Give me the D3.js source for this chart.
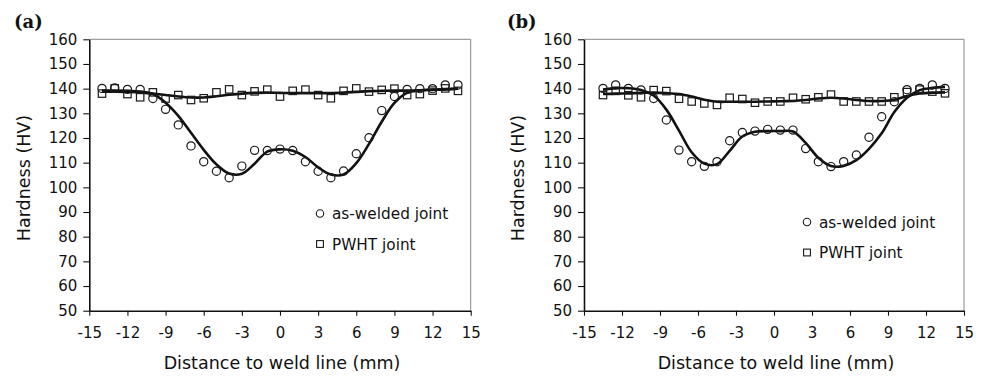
<!DOCTYPE html>
<html>
<head>
<meta charset="utf-8">
<script src="https://cdn.jsdelivr.net/npm/d3@7"></script>
<style>
	body { margin: 0; background: #fff; }
	text { font-family: 'DejaVu Sans', sans-serif; fill: #111; }
</style>
</head>
<body>
<svg id="chart" width="984" height="377"></svg>
<script>
// tick labels
const distTicks = [-15, -12, -9, -6, -3, 0, 3, 6, 9, 12, 15];
const hardTicks = [50, 60, 70, 80, 90, 100, 110, 120, 130, 140, 150, 160];

// panel (a)
const distA = [-14, -13, -12, -11, -10, -9, -8, -7, -6, -5, -4, -3, -2, -1, 0, 1, 2, 3, 4, 5, 6, 7, 8, 9, 10, 11, 12, 13, 14];
const weldedA = [140.1, 140.3, 139.7, 139.7, 136, 131.6, 125.3, 116.8, 110.4, 106.5, 103.9, 108.6, 115, 114.9, 115.5, 114.9, 110.4, 106.5, 103.9, 106.6, 113.6, 120.1, 131.1, 136.8, 139.7, 140, 140, 141.5, 141.5];
const pwhtA = [138, 140.1, 137.8, 136.5, 138.5, 136, 137.4, 135.4, 136.1, 138.5, 139.7, 137.4, 138.9, 139.6, 136.8, 139.1, 139.6, 137.4, 136.1, 139.1, 140.1, 138.8, 139.5, 140, 137.4, 137.8, 139.2, 140.1, 139.1];
const weldedFitA = [139.2, 139.2, 139.1, 138.8, 137.8, 134.3, 129, 122.1, 115.2, 109.3, 105.6, 105.5, 109.6, 114.5, 115.4, 114.8, 112.3, 108.1, 105.2, 105.2, 109.8, 117.6, 126.6, 134.2, 138.3, 139.3, 139.6, 139.8, 140];
const pwhtFitA = [138.8, 138.8, 138.7, 138.5, 138, 137.4, 136.8, 136.4, 136.4, 136.9, 137.5, 138, 138.3, 138.4, 138.3, 138.2, 138.2, 138.2, 138.2, 138.4, 138.7, 139, 139.1, 139.2, 139.2, 139.3, 139.5, 139.7, 140];

// panel (b)
const distB = [-13.5, -12.5, -11.5, -10.5, -9.5, -8.5, -7.5, -6.5, -5.5, -4.5, -3.5, -2.5, -1.5, -0.5, 0.5, 1.5, 2.5, 3.5, 4.5, 5.5, 6.5, 7.5, 8.5, 9.5, 10.5, 11.5, 12.5, 13.5];
const weldedB = [140.1, 141.5, 140.1, 139.5, 136, 127.3, 115.1, 110.4, 108.5, 110.4, 118.9, 122.2, 122.8, 123.5, 123.2, 123.2, 115.7, 110.4, 108.4, 110.4, 113.1, 120.3, 128.6, 134.7, 139.6, 140.1, 141.5, 140.1];
const pwhtB = [137.4, 139.1, 137.3, 136.5, 139.4, 139, 135.9, 134.8, 134, 133.4, 136.3, 135.8, 134.3, 134.8, 134.8, 136.3, 135.7, 136.5, 137.6, 134.8, 134.8, 134.8, 134.8, 136.5, 138.6, 139.6, 138.8, 138.1];
const weldedFitB = [139.6, 140.2, 140.2, 139.5, 137.2, 131.5, 123, 114.2, 109.6, 109.4, 114.8, 120.6, 122.5, 122.8, 122.8, 122.6, 118, 112, 108.6, 108.7, 111, 115.6, 121.9, 130.5, 136.3, 139.4, 140.3, 140.7];
const pwhtFitB = [137.8, 138, 138.1, 138.3, 138.4, 138.2, 137.8, 136.8, 135.5, 134.7, 134.7, 134.7, 134.7, 134.8, 134.9, 135, 135.4, 136, 136.3, 136, 135.4, 135, 135, 135.5, 137, 138, 138.4, 138.5];

const legendLabels = ['as-welded joint', 'PWHT joint'];

const svg = d3.select('#chart');

function drawPanel(p) {
	const top = 39.3;
	const bottom = 310.7;
	const xScale = d3.scaleLinear().domain([-15, 15]).range([p.left, p.right]);
	const yScale = d3.scaleLinear().domain([50, 160]).range([bottom, top]);
	const g = svg.append('g');

	// grey frame on top and right
	g.append('line').attr('x1', p.left).attr('x2', p.right).attr('y1', top).attr('y2', top)
		.attr('stroke', '#888').attr('stroke-width', 1);
	g.append('line').attr('x1', p.right).attr('x2', p.right).attr('y1', top).attr('y2', bottom)
		.attr('stroke', '#888').attr('stroke-width', 1);

	const yAxis = d3.axisLeft(yScale).tickValues(hardTicks).tickSize(6).tickSizeOuter(0).tickPadding(6);
	const xAxis = d3.axisBottom(xScale).tickValues(distTicks).tickSize(5).tickSizeOuter(0).tickPadding(12)
		.tickFormat((v) => String(v)); // plain hyphen minus like the original

	const yAxisSel = g.append('g').attr('transform', 'translate(' + p.left + ',0)').call(yAxis);
	const xAxisSel = g.append('g').attr('transform', 'translate(0,' + bottom + ')').call(xAxis);
	[yAxisSel, xAxisSel].forEach((sel) => {
		sel.attr('font-family', null).attr('font-size', null);
		sel.select('.domain').attr('stroke', '#111').attr('stroke-width', 1.6);
		sel.selectAll('.tick line').attr('stroke', '#111').attr('stroke-width', 1.1);
		sel.selectAll('.tick text').style('font-size', '15px').attr('fill', '#111');
	});

	// axis titles
	g.append('text')
		.attr('transform', 'translate(' + p.yTitleX + ',178) rotate(-90)')
		.attr('text-anchor', 'middle')
		.style('font-size', '17.5px')
		.text('Hardness (HV)');
	g.append('text')
		.attr('x', (p.left + p.right) / 2 + 2)
		.attr('y', 369)
		.attr('text-anchor', 'middle')
		.style('font-size', '17.5px')
		.text('Distance to weld line (mm)');

	// panel letter
	g.append('text')
		.attr('x', p.labelX)
		.attr('y', 28)
		.style('font-family', "'DejaVu Serif', serif")
		.style('font-weight', 'bold')
		.style('font-size', '18px')
		.text(p.label);

	// fitted curves
	const line = d3.line()
		.x((d) => xScale(d[0]))
		.y((d) => yScale(d[1]))
		.curve(d3.curveCatmullRom.alpha(0.5));
	[p.weldedFit, p.pwhtFit].forEach((fit) => {
		g.append('path')
			.datum(p.dist.map((v, i) => [v, fit[i]]))
			.attr('d', line)
			.attr('fill', 'none')
			.attr('stroke', '#111')
			.attr('stroke-width', 2.6);
	});

	// measured points
	g.append('g')
		.selectAll('circle')
		.data(p.dist.map((v, i) => [v, p.welded[i]]))
		.enter()
		.append('circle')
		.attr('cx', (d) => xScale(d[0]))
		.attr('cy', (d) => yScale(d[1]))
		.attr('r', 4.1)
		.attr('fill', 'none')
		.attr('stroke', '#1a1a1a')
		.attr('stroke-width', 1.2);
	g.append('g')
		.selectAll('rect')
		.data(p.dist.map((v, i) => [v, p.pwht[i]]))
		.enter()
		.append('rect')
		.attr('x', (d) => xScale(d[0]) - 3.7)
		.attr('y', (d) => yScale(d[1]) - 3.7)
		.attr('width', 7.4)
		.attr('height', 7.4)
		.attr('fill', 'none')
		.attr('stroke', '#1a1a1a')
		.attr('stroke-width', 1.2);

	// legend
	const lg = g.append('g').attr('transform', 'translate(' + p.legendX + ',' + p.legendY + ')');
	lg.append('circle').attr('cx', 0).attr('cy', 0).attr('r', 3.7)
		.attr('fill', 'none').attr('stroke', '#1a1a1a').attr('stroke-width', 1.1);
	lg.append('rect').attr('x', -3.4).attr('y', 30.5 - 3.4).attr('width', 6.8).attr('height', 6.8)
		.attr('fill', 'none').attr('stroke', '#1a1a1a').attr('stroke-width', 1.1);
	legendLabels.forEach((label, i) => {
		lg.append('text')
			.attr('x', 12)
			.attr('y', i * 30.5)
			.attr('dy', '0.36em')
			.style('font-size', '15.3px')
			.text(label);
	});
}

drawPanel({
	label: '(a)', labelX: 14, left: 89.3, right: 470.7, yTitleX: 30,
	legendX: 320, legendY: 213.5,
	dist: distA, welded: weldedA, pwht: pwhtA, weldedFit: weldedFitA, pwhtFit: pwhtFitA
});
drawPanel({
	label: '(b)', labelX: 507, left: 584, right: 964, yTitleX: 524,
	legendX: 807, legendY: 222,
	dist: distB, welded: weldedB, pwht: pwhtB, weldedFit: weldedFitB, pwhtFit: pwhtFitB
});
</script>
</body>
</html>
